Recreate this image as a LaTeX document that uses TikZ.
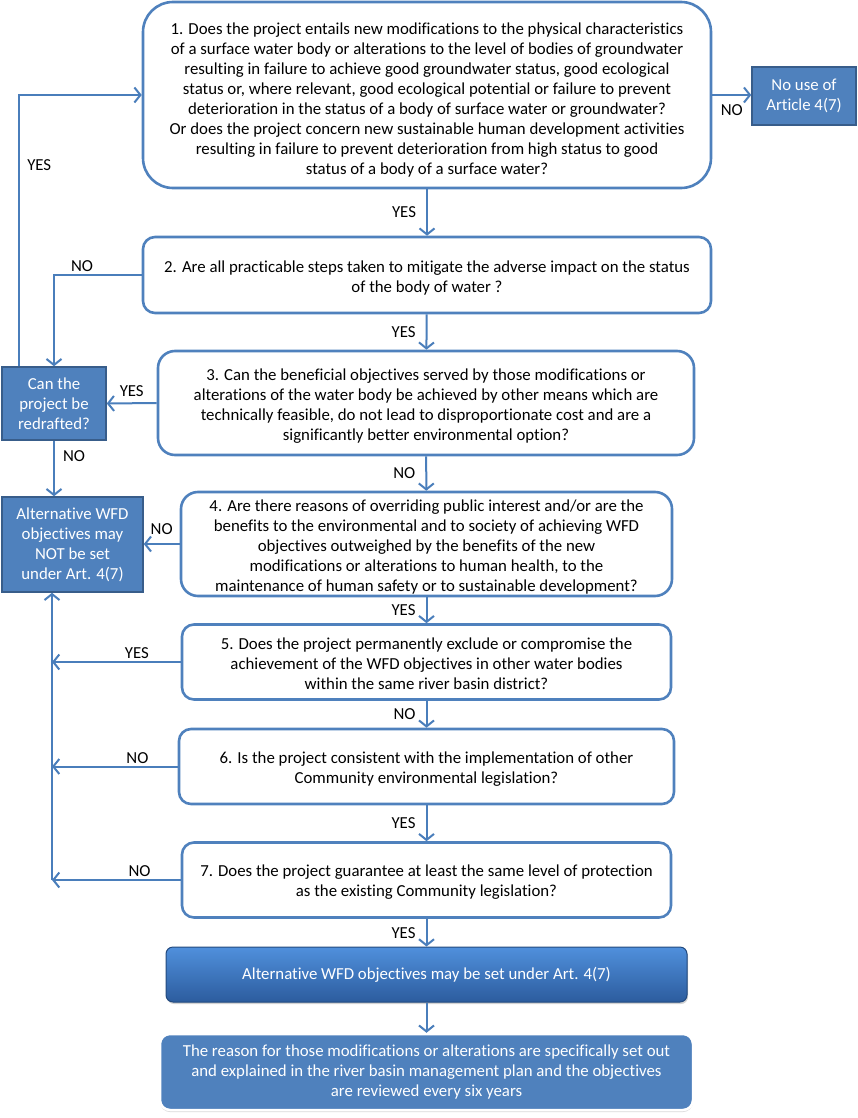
\documentclass[tikz,border=0pt]{standalone}
\usepackage{fontspec}
\setmainfont[Ligatures=NoCommon]{Carlito}
\usetikzlibrary{arrows.meta,shadows,calc}

\definecolor{lineblue}{HTML}{4A7EBB}
\definecolor{boxblue}{HTML}{4F81BD}
\definecolor{darkblue}{HTML}{385D8A}
\definecolor{topblue}{HTML}{5090DC}
\definecolor{botblue}{HTML}{2C5C9E}

\newcommand{\topgap}[1]{\rule{0pt}{#1}}

\begin{document}
\begin{tikzpicture}[x=1pt,y=-1pt,
    font=\fontsize{16.8}{20}\selectfont,
    question/.style={draw=boxblue,line width=2.6pt,fill=white,align=center,inner sep=0pt},
    bluebox/.style={draw=darkblue,line width=1.5pt,fill=boxblue,text=white,align=center,inner sep=0pt},
    arr/.style={draw=lineblue,line width=2pt,-{Straight Barb[length=6pt,width=15pt,line width=2pt]}},
    lbl/.style={inner sep=2pt,text=black}]
    \useasboundingbox (0,0) rectangle (858,1118);

    % questions
    \node[question,rounded corners=30pt,minimum width=568pt,minimum height=186pt] (q1) at (427,95)
        {\topgap{22pt}1. Does the project entails new modifications to the physical characteristics\\
         of a surface water body or alterations to the level of bodies of groundwater\\
         resulting in failure to achieve good groundwater status, good ecological\\
         status or, where relevant, good ecological potential or failure to prevent\\
         deterioration in the status of a body of surface water or groundwater?\\
         Or does the project concern new sustainable human development activities\\
         resulting in failure to prevent deterioration from high status to good\\
         status of a body of a surface water?};
    \node[question,rounded corners=12pt,minimum width=568pt,minimum height=76pt] (q2) at (427,275)
        {\topgap{18pt}2. Are all practicable steps taken to mitigate the adverse impact on the status\\
         of the body of water ?};
    \node[question,rounded corners=17pt,minimum width=536pt,minimum height=104pt] (q3) at (426,403)
        {\topgap{18pt}3. Can the beneficial objectives served by those modifications or\\
         alterations of the water body be achieved by other means which are\\
         technically feasible, do not lead to disproportionate cost and are a\\
         significantly better environmental option?};
    \node[question,rounded corners=17pt,minimum width=491pt,minimum height=104pt] (q4) at (426.5,544)
        {\topgap{18pt}4. Are there reasons of overriding public interest and/or are the\\
         benefits to the environmental and to society of achieving WFD\\
         objectives outweighed by the benefits of the new\\
         modifications or alterations to human health, to the\\
         maintenance of human safety or to sustainable development?};
    \node[question,rounded corners=12pt,minimum width=489pt,minimum height=75pt] (q5) at (426.5,662)
        {\topgap{16pt}5. Does the project permanently exclude or compromise the\\
         achievement of the WFD objectives in other water bodies\\
         within the same river basin district?};
    \node[question,rounded corners=12pt,minimum width=495pt,minimum height=75pt] (q6) at (426.5,766.5)
        {\topgap{16pt}6. Is the project consistent with the implementation of other\\
         Community environmental legislation?};
    \node[question,rounded corners=12pt,minimum width=489pt,minimum height=75pt] (q7) at (426.5,880)
        {\topgap{16pt}7. Does the project guarantee at least the same level of protection\\
         as the existing Community legislation?};

    % outcomes
    \node[bluebox,minimum width=104pt,minimum height=58pt] (nouse) at (804,96)
        {No use of\\ Article 4(7)};
    \node[bluebox,minimum width=104pt,minimum height=73pt] (redraft) at (54,403.5)
        {Can the\\ project be\\ redrafted?};
    \node[bluebox,minimum width=141pt,minimum height=95pt] (altno) at (72.5,544.5)
        {Alternative WFD\\ objectives may\\ NOT be set\\ under Art. 4(7)};
    \node[bluebox,draw=botblue!80!black,line width=1pt,rounded corners=7pt,top color=topblue,bottom color=botblue,
          drop shadow={opacity=0.35,shadow xshift=1pt,shadow yshift=-2pt},
          minimum width=521pt,minimum height=55pt] (altyes) at (426.5,974.5)
        {Alternative WFD objectives may be set under Art. 4(7)};
    \node[bluebox,draw=white,line width=2.5pt,rounded corners=10pt,
          drop shadow={opacity=0.3,shadow xshift=0pt,shadow yshift=-2pt},
          minimum width=533pt,minimum height=76pt] (reason) at (426.5,1072)
        {The reason for those modifications or alterations are specifically set out\\
         and explained in the river basin management plan and the objectives\\
         are reviewed every six years};

    \coordinate (spine) at (52,880);

    % main line
    \draw[arr] (q1) -- (q2) node[midway,left=8pt,lbl] {YES};
    \draw[arr] (q2) -- (q3) node[midway,left=8pt,lbl] {YES};
    \draw[arr] (q3) -- (q4) node[midway,left=8pt,lbl] {NO};
    \draw[arr] (q4) -- (q5) node[midway,left=8pt,lbl] {YES};
    \draw[arr] (q5) -- (q6) node[midway,left=8pt,lbl] {NO};
    \draw[arr] (q6) -- (q7) node[midway,left=8pt,lbl] {YES};
    \draw[arr] (q7) -- (altyes) node[midway,left=8pt,lbl] {YES};
    \draw[arr] (altyes) -- (reason);

    % side branches
    \draw[arr] (q1) -- (q1 -| nouse.west) node[midway,below=7pt,lbl] {NO};
    \draw[arr] (q2.west) -| (redraft.north) node[pos=0.34,above,lbl] {NO};
    \draw[arr] (q3.west) -- (redraft.east) node[midway,above=4pt,lbl] {YES};
    \draw[arr] ([xshift=18pt]redraft.north west) |- (q1.west) node[pos=0.37,right=5pt,lbl] {YES};
    \draw[arr] (redraft.south) -- (redraft.south |- altno.north) node[pos=0.27,right=6pt,lbl] {NO};
    \draw[arr] (q4.west) -- (q4.west -| altno.east) node[midway,above=6pt,lbl] {NO};
    \draw[arr] (spine) -- (spine |- altno.south);
    \draw[arr] (q5.west) -- (q5.west -| spine) node[pos=0.34,above,lbl] {YES};
    \draw[arr] (q6.west) -- (q6.west -| spine) node[pos=0.32,above,lbl] {NO};
    \draw[arr] (q7.west) -- (spine) node[pos=0.32,above,lbl] {NO};
\end{tikzpicture}
\end{document}
